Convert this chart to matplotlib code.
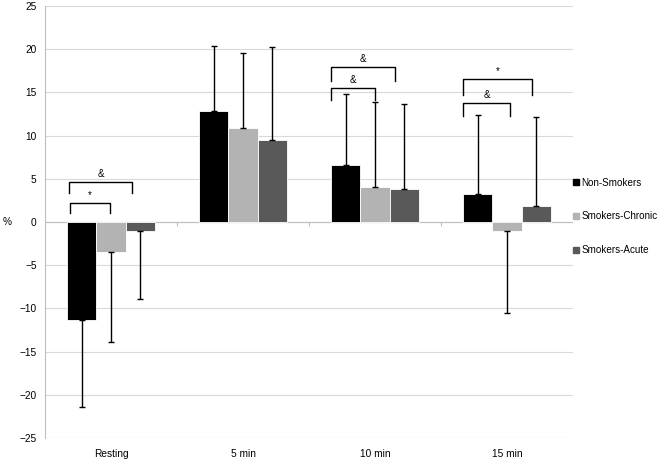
import numpy as np
import matplotlib.pyplot as plt
from matplotlib.lines import Line2D

plt.rcParams['font.family'] = ['Liberation Sans', 'DejaVu Sans']

categories = ['Resting', '5 min', '10 min', '15 min']
series = ['Non-Smokers', 'Smokers-Chronic', 'Smokers-Acute']
non_smokers = [-11.4, 12.9, 6.6, 3.2]
chronic = [-3.5, 10.9, 4.1, -1.0]
acute = [-1.0, 9.5, 3.8, 1.8]
# end points of the one-sided error bars
non_smokers_err = [-21.4, 20.4, 14.8, 12.4]
chronic_err = [-13.9, 19.6, 13.9, -10.5]
acute_err = [-8.9, 20.2, 13.7, 12.1]
colors = ['#000000', '#b3b3b3', '#595959']

# significance brackets: (category, x0, x1, top, foot, label)
brackets = [
    (0, -0.31, -0.01, 2.2, 1.0, '*'),
    (0, -0.32, 0.16, 4.6, 3.3, '&'),
    (2, -0.33, 0.00, 15.5, 14.1, '&'),
    (2, -0.33, 0.15, 17.9, 16.3, '&'),
    (3, -0.33, 0.02, 13.8, 12.3, '&'),
    (3, -0.33, 0.19, 16.5, 14.7, '*'),
]

fig = plt.figure(figsize=(6.61, 4.62), dpi=100)
ax = fig.add_axes([0.068, 0.052, 0.799, 0.935])

x = np.arange(len(categories))
w = 0.222
vals = [non_smokers, chronic, acute]
errs = [non_smokers_err, chronic_err, acute_err]
for i, (v, e, c) in enumerate(zip(vals, errs, colors)):
    xs = x + (i - 1) * w
    ax.bar(xs, v, width=w, color=c, edgecolor='white', linewidth=0.6, zorder=2)
    v = np.array(v)
    e = np.array(e)
    lo = np.minimum(v, e)
    hi = np.maximum(v, e)
    ax.errorbar(xs, v, yerr=[v - lo, hi - v], fmt='none', ecolor='black',
                elinewidth=1, capsize=2.5, capthick=1, zorder=3)

for cat, x0, x1, top, foot, lab in brackets:
    ax.plot([cat + x0, cat + x0, cat + x1, cat + x1], [foot, top, top, foot],
            color='black', lw=1, zorder=4)
    ax.text(cat + (x0 + x1) / 2, top + 0.35, lab, ha='center', va='bottom', fontsize=7)

ax.set_xlim(-0.5, 3.5)
ax.set_ylim(-25, 25)
ax.set_yticks(range(-25, 26, 5))
ax.yaxis.grid(True, color='#d9d9d9', lw=0.8)
ax.set_axisbelow(True)
ax.set_xticks(x)
ax.set_xticklabels(categories, fontsize=7.3)
ax.tick_params(axis='x', length=0, pad=8)
ax.tick_params(axis='y', length=0, labelsize=7.3, pad=6)
for s in ['top', 'right', 'bottom']:
    ax.spines[s].set_visible(False)
ax.spines['left'].set_color('#bfbfbf')
ax.axhline(0, color='#bfbfbf', lw=0.8, zorder=1)
ax.vlines([0.5, 1.5, 2.5, 3.5], -0.5, 0, color='#bfbfbf', lw=0.8)
ax.set_ylabel('%', rotation=0, fontsize=7.3, ha='center', va='center')
ax.yaxis.set_label_coords(-0.071, 0.5)

handles = [Line2D([], [], marker='s', linestyle='none', color=c, markersize=5) for c in colors]
fig.legend(handles, series, loc='upper left', bbox_to_anchor=(0.859, 0.626),
           frameon=False, fontsize=7.1, handlelength=0.6, handletextpad=0.3,
           labelspacing=2.4, borderpad=0)

fig.savefig('out.png', dpi=100)
